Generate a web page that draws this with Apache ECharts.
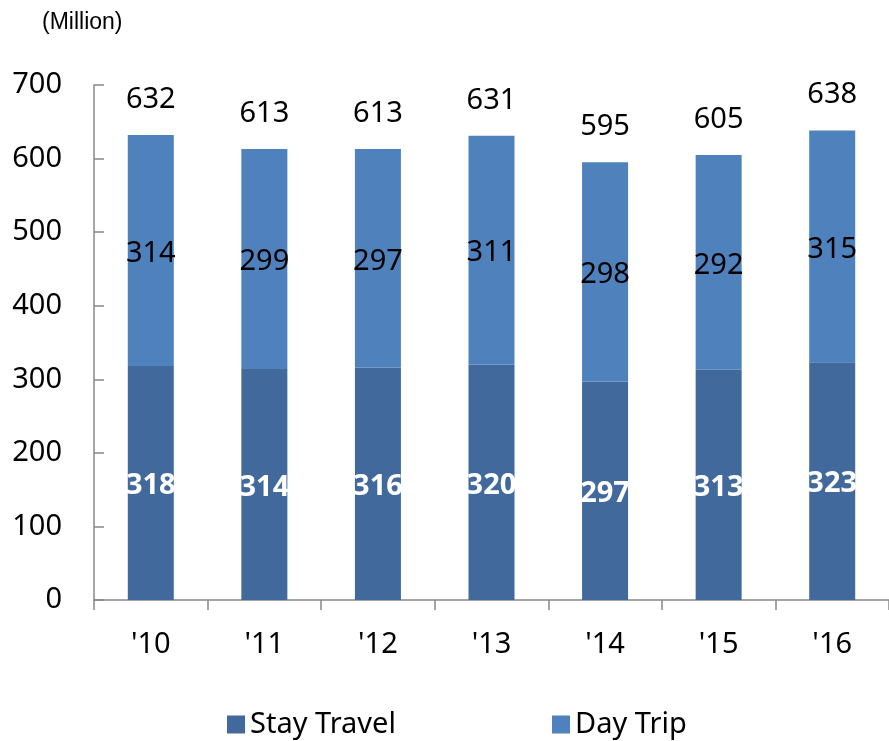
<!DOCTYPE html>
<html><head><meta charset="utf-8">
<script src="https://cdn.jsdelivr.net/npm/echarts@6/dist/echarts.min.js"></script>
<style>html,body{margin:0;padding:0;background:#fff}#c{width:889px;height:741px}</style>
</head><body><div id="c"></div>
<script>
const categories = ["'10", "'11", "'12", "'13", "'14", "'15", "'16"];
const stayTravel = [318, 314, 316, 320, 297, 313, 323];
const dayTrip = [314, 299, 297, 311, 298, 292, 315];
const totals = [632, 613, 613, 631, 595, 605, 638];
const yTicks = [0, 100, 200, 300, 400, 500, 600, 700];

const FONT = 'Noto Sans';
const FS = 29;
const chart = echarts.init(document.getElementById('c'));
chart.setOption({
  animation: false,
  title: { text: '(Million)', left: 37, top: 6, textStyle: { fontFamily: 'Liberation Sans', fontSize: 23, fontWeight: 'normal', color: '#000' } },
  grid: { left: 94, right: 0, top: 85, bottom: 141, containLabel: false },
  legend: [
    { data: ['Stay Travel'], left: 222, top: 705, icon: 'rect', itemWidth: 18, itemHeight: 18, itemGap: 0,
      textStyle: { fontFamily: FONT, fontSize: FS, color: '#000' } },
    { data: ['Day Trip'], left: 547, top: 705, icon: 'rect', itemWidth: 18, itemHeight: 18, itemGap: 0,
      textStyle: { fontFamily: FONT, fontSize: FS, color: '#000' } }
  ],
  xAxis: {
    type: 'category', data: categories,
    axisLine: { lineStyle: { color: '#888', width: 1.5 } },
    axisTick: { show: true, inside: false, length: 10, lineStyle: { color: '#888', width: 1.5 } },
    axisLabel: { fontFamily: FONT, fontSize: FS, color: '#000', margin: 30 }
  },
  yAxis: {
    type: 'value', min: yTicks[0], max: yTicks[yTicks.length - 1], interval: 100,
    axisLine: { show: true, lineStyle: { color: '#888', width: 1.5 } },
    axisTick: { show: true, inside: true, length: 10, lineStyle: { color: '#888', width: 1.5 } },
    splitLine: { show: false },
    axisLabel: { fontFamily: FONT, fontSize: FS, color: '#000', margin: 32 }
  },
  series: [
    { name: 'Stay Travel', type: 'bar', stack: 'a', barWidth: 46, data: stayTravel,
      itemStyle: { color: '#41699C' },
      label: { show: true, position: 'inside', offset: [0, 3], color: '#fff', fontWeight: 'bold', fontFamily: FONT, fontSize: FS } },
    { name: 'Day Trip', type: 'bar', stack: 'a', barWidth: 46, data: dayTrip,
      itemStyle: { color: '#4F81BD' },
      label: { show: true, position: 'inside', offset: [0, 3], color: '#000', fontFamily: FONT, fontSize: FS } },
    { name: 'Total', type: 'line', data: totals, symbol: 'circle', symbolSize: 0, showSymbol: true,
      lineStyle: { opacity: 0, width: 0 }, silent: true,
      label: { show: true, position: 'top', distance: 21, color: '#000', fontFamily: FONT, fontSize: FS } }
  ]
});
</script></body></html>
